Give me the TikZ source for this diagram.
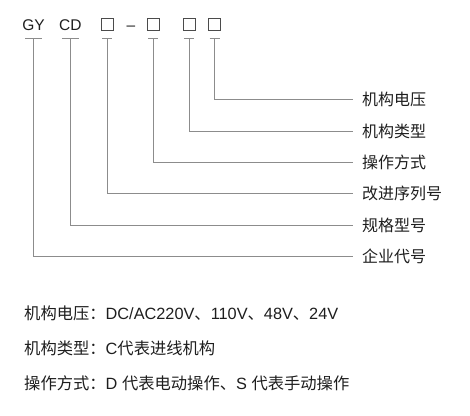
\documentclass[tikz,border=0pt]{standalone}
\usepackage{fontspec}
\setmainfont{Liberation Sans}
\newfontfamily\cjk{Noto Sans CJK SC}
\definecolor{linegray}{HTML}{8C8C8C}
\definecolor{txtgray}{HTML}{1E1E1E}
\tikzset{
  code/.style={anchor=base,inner sep=0pt,text=txtgray,font=\fontsize{15.5}{18}\selectfont},
  codebox/.style={draw=txtgray!80,line width=0.75pt,minimum size=12pt,inner sep=0pt,anchor=south},
  lead/.style={draw=linegray,line width=0.8pt},
  tag/.style={anchor=west,inner xsep=9pt,inner ysep=0pt,text=txtgray,font=\cjk\fontsize{16}{18}\selectfont},
  note/.style={anchor=west,inner sep=0pt,text=txtgray,font=\fontsize{16.3}{18}\selectfont}
}
\begin{document}
\begin{tikzpicture}[x=1pt,y=-1pt]
\useasboundingbox (0,0) rectangle (470,415);
% model code
\node[code] (gy) at (33.5,30.5) {GY};
\node[code] (cd) at (70.3,30.5) {CD};
\node[codebox] (ga) at (107.3,30.7) {};
\node[code] (dash) at (131,30.5) {–};
\node[codebox] (gb) at (153,30.7) {};
\node[codebox] (gc) at (189,30.7) {};
\node[codebox] (gd) at (214.5,30.7) {};
% meanings
\node[tag] (dy) at (353,99.3) {机构电压};
\node[tag] (lx) at (353,131) {机构类型};
\node[tag] (fs) at (353,162.3) {操作方式};
\node[tag] (xl) at (353,193.3) {改进序列号};
\node[tag] (gg) at (353,225) {规格型号};
\node[tag] (qy) at (353,256) {企业代号};
% ticks
\draw[lead] ([xshift=-8.5pt,yshift=-7.6pt]gy.base) -- ([xshift=8.5pt,yshift=-7.6pt]gy.base);
\draw[lead] ([xshift=-8.5pt,yshift=-7.6pt]cd.base) -- ([xshift=8.5pt,yshift=-7.6pt]cd.base);
\draw[lead] ([xshift=-5pt,yshift=-7.6pt]ga.south) -- ([xshift=5pt,yshift=-7.6pt]ga.south);
\draw[lead] ([xshift=-5pt,yshift=-7.6pt]gb.south) -- ([xshift=5pt,yshift=-7.6pt]gb.south);
\draw[lead] ([xshift=-5pt,yshift=-7.6pt]gc.south) -- ([xshift=5pt,yshift=-7.6pt]gc.south);
\draw[lead] ([xshift=-5pt,yshift=-7.6pt]gd.south) -- ([xshift=5pt,yshift=-7.6pt]gd.south);
% leads
\draw[lead] ([yshift=-7.6pt]gd.south) |- (dy.west);
\draw[lead] ([yshift=-7.6pt]gc.south) |- (lx.west);
\draw[lead] ([yshift=-7.6pt]gb.south) |- (fs.west);
\draw[lead] ([yshift=-7.6pt]ga.south) |- (xl.west);
\draw[lead] ([yshift=-7.6pt]cd.base) |- (gg.west);
\draw[lead] ([yshift=-7.6pt]gy.base) |- (qy.west);
% notes
\node[note] (n1) at (24,313) {{\cjk 机构电压：}DC/AC220V{\cjk 、}110V{\cjk 、}48V{\cjk 、}24V};
\node[note] (n2) at (24,348) {{\cjk 机构类型：}C{\cjk 代表进线机构}};
\node[note] (n3) at (24,383) {{\cjk 操作方式：}D {\cjk 代表电动操作、}S {\cjk 代表手动操作}};
\end{tikzpicture}
\end{document}
